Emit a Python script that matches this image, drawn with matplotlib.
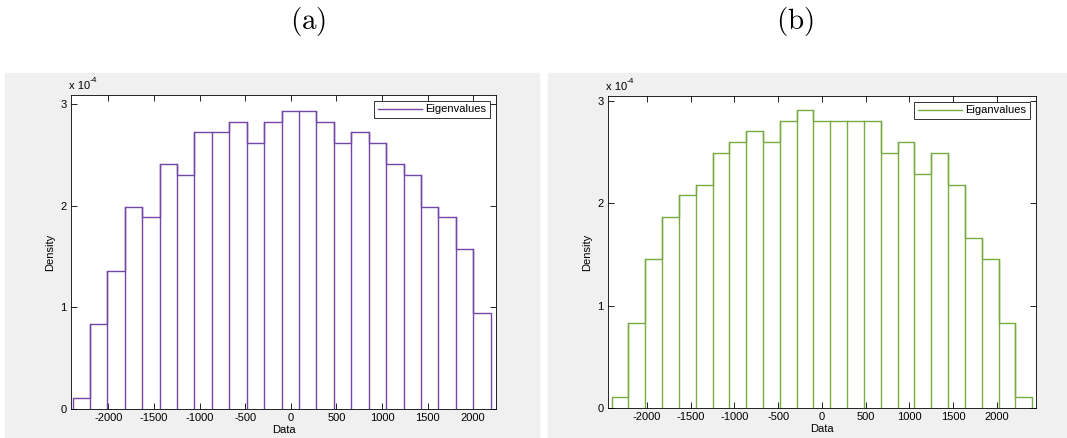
import matplotlib.pyplot as plt
import numpy as np
from matplotlib.patches import Rectangle

plt.rcParams['font.family'] = ['Liberation Sans', 'DejaVu Sans']
plt.rcParams['mathtext.fontset'] = 'cm'
plt.rcParams['axes.unicode_minus'] = False

# panel (a): 24 bins, density in units of 1e-4
edges_a = np.linspace(-2393, 2191, 25)
dens_a = [0.105, 0.838, 1.361, 1.990, 1.885, 2.408, 2.304, 2.723, 2.723, 2.827,
          2.618, 2.827, 2.932, 2.932, 2.827, 2.618, 2.723, 2.618, 2.408, 2.304,
          1.990, 1.885, 1.571, 0.942]
label_a = "Eigenvalues"

# panel (b): 25 bins, density in units of 1e-4
edges_b = np.linspace(-2402, 2402, 26)
dens_b = [0.104, 0.832, 1.456, 1.872, 2.080, 2.184, 2.496, 2.600, 2.704, 2.600,
          2.808, 2.912, 2.808, 2.808, 2.808, 2.808, 2.496, 2.600, 2.288, 2.496,
          2.184, 1.664, 1.456, 0.832, 0.104]
label_b = "Eiganvalues"

W, H = 1067, 438
fig = plt.figure(figsize=(W / 100, H / 100), dpi=100)
fig.patch.set_facecolor('white')

bg = '#f0f0f0'
fig.patches.append(Rectangle((5 / W, 0), (539 - 5) / W, (H - 73) / H,
                             transform=fig.transFigure, color=bg, zorder=-10))
fig.patches.append(Rectangle((548 / W, 0), (W - 548) / W, (H - 73) / H,
                             transform=fig.transFigure, color=bg, zorder=-10))


def panel(rect, edges, dens, label, color, xlim, ylim_top):
    ax = fig.add_axes(rect)
    ax.set_facecolor('white')
    ax.stairs(dens, edges, fill=False, color=color, lw=1.0, label=label)
    for e, lo, hi in zip(edges[1:-1], dens[:-1], dens[1:]):
        ax.plot([e, e], [0, max(lo, hi)], color=color, lw=1.0)
    ax.set_xlim(*xlim)
    ax.set_ylim(0, ylim_top)
    ax.set_xticks([-2000, -1500, -1000, -500, 0, 500, 1000, 1500, 2000])
    ax.set_yticks([0, 1, 2, 3])
    ax.tick_params(direction='in', top=True, right=True, length=4,
                   labelsize=8, width=0.6, pad=3)
    for s in ax.spines.values():
        s.set_linewidth(0.6)
    ax.set_xlabel("Data", fontsize=8, labelpad=1)
    ax.set_ylabel("Density", fontsize=8, labelpad=4)
    ax.text(-0.005, 1.012, "x 10", transform=ax.transAxes,
            fontsize=8, ha='left', va='bottom')
    ax.text(0.043, 1.035, "-4", transform=ax.transAxes,
            fontsize=6, ha='left', va='bottom')
    leg = ax.legend(loc='upper right', fontsize=8, frameon=True, fancybox=False,
                    borderaxespad=0.5, handlelength=4.0, borderpad=0.35,
                    handletextpad=0.3)
    leg.get_frame().set_edgecolor('black')
    leg.get_frame().set_linewidth(0.7)
    return ax


panel([71 / W, (H - 409) / H, (496 - 71) / W, (409 - 95) / H],
      edges_a, dens_a, label_a, '#7446a8', (-2410, 2250), 3.09)
panel([608 / W, (H - 408) / H, (1036 - 608) / W, (408 - 96) / H],
      edges_b, dens_b, label_b, '#77ab43', (-2443, 2445), 3.05)

fig.text(308 / W, 1 - 21 / H, r"$\mathrm{(a)}$", fontsize=21, ha='center', va='center')
fig.text(795 / W, 1 - 21 / H, r"$\mathrm{(b)}$", fontsize=21, ha='center', va='center')

fig.savefig("out.png", dpi=100)
